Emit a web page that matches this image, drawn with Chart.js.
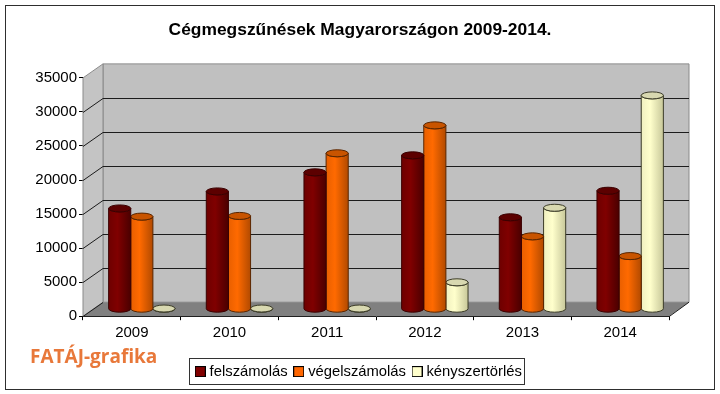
<!DOCTYPE html>
<html>
<head>
<meta charset="utf-8">
<style>
html, body { margin: 0; padding: 0; background: #fff; }
#wrap { width: 720px; height: 394px; }
</style>
<script src="https://cdn.jsdelivr.net/npm/chart.js@4"></script>
</head>
<body>
<div id="wrap"><canvas id="chart" width="720" height="394"></canvas></div>
<script>
const categories = ['2009', '2010', '2011', '2012', '2013', '2014'];
const felszamolas = [14800, 17300, 20100, 22600, 13500, 17400];
const vegelszamolas = [13600, 13700, 22900, 27000, 10700, 7800];
const kenyszertorles = [100, 100, 100, 3950, 14900, 31400];
const yTicks = [0, 5000, 10000, 15000, 20000, 25000, 30000, 35000];

const titleText = 'Cégmegszűnések Magyarországon 2009-2014.';
const brandText = 'FATÁJ-grafika';

// depth of the fake 3D box, bars stand halfway in
const depthX = 20, depthY = -14;

// side shading per series colour: left, middle, right, lid, outline
const shades = {
    '#800000': ['#6e0000', '#800000', '#4a0000', '#5c0000', '#3a0000'],
    '#ff6600': ['#e85f00', '#ff6a00', '#b24a00', '#c85400', '#5a2600'],
    '#ffffcc': ['#f0f0c0', '#ffffcc', '#c8c89a', '#d8d8b0', '#3c3c28']
};

// Cylinder bar, drawn from the element's own x / y / base / width
class CylinderElement extends Chart.BarElement {
    static id = 'cylinder';
    static defaults = { ...Chart.BarElement.defaults };

    draw(ctx) {
        const shade = shades[this.options.backgroundColor];
        const cx = this.x + depthX / 2, top = this.y + depthY / 2, bottom = this.base + depthY / 2;
        const rx = this.width / 2, ry = 3.5;
        const left = cx - rx, right = cx + rx;
        const g = ctx.createLinearGradient(left, 0, right, 0);
        g.addColorStop(0, shade[0]);
        g.addColorStop(0.4, shade[1]);
        g.addColorStop(1, shade[2]);

        ctx.save();
        ctx.lineWidth = 1;
        ctx.strokeStyle = shade[4];
        ctx.fillStyle = g;
        ctx.beginPath();
        ctx.moveTo(left, top);
        ctx.lineTo(left, bottom);
        ctx.ellipse(cx, bottom, rx, ry, 0, Math.PI, 0, true);
        ctx.lineTo(right, top);
        ctx.ellipse(cx, top, rx, ry, 0, 0, Math.PI, false);
        ctx.closePath();
        ctx.fill();
        ctx.stroke();

        ctx.fillStyle = shade[3];
        ctx.beginPath();
        ctx.ellipse(cx, top, rx, ry, 0, 0, Math.PI * 2);
        ctx.fill();
        ctx.stroke();
        ctx.restore();
    }
}

class CylinderController extends Chart.BarController {
    static id = 'cylinderBar';
    static defaults = { ...Chart.BarController.defaults, dataElementType: 'cylinder' };
}

Chart.register(CylinderElement, CylinderController);

// Legend swatch as a small canvas, so the label can sit closer than the default gap
function swatch(color) {
    const c = document.createElement('canvas');
    c.width = 11;
    c.height = 11;
    const g = c.getContext('2d');
    g.fillStyle = color;
    g.fillRect(0, 0, 11, 11);
    g.strokeStyle = '#000';
    g.strokeRect(0.5, 0.5, 10, 10);
    return c;
}

function legendLabels(chart) {
    return Chart.defaults.plugins.legend.labels.generateLabels(chart).map(item => {
        item.pointStyle = swatch(item.fillStyle);
        return item;
    });
}

// Walls, floor, gridlines behind the bars
const boxPlugin = {
    id: 'box',
    // padding keeps title and legend centred, the y labels still need room to the left
    afterLayout(chart) {
        chart.scales.y.left = 0;
    },
    beforeDatasetsDraw(chart) {
        const { ctx, chartArea: a, scales: { y } } = chart;
        const y0 = y.getPixelForValue(0), yMax = y.getPixelForValue(35000);
        ctx.save();
        ctx.lineWidth = 1;
        // back wall
        ctx.fillStyle = '#c0c0c0';
        ctx.strokeStyle = '#8a8a8a';
        ctx.beginPath();
        ctx.rect(a.left + depthX, yMax + depthY, a.width, y0 - yMax);
        ctx.fill();
        ctx.stroke();
        // side wall
        ctx.fillStyle = '#c4c4c4';
        ctx.beginPath();
        ctx.moveTo(a.left, y0);
        ctx.lineTo(a.left, yMax);
        ctx.lineTo(a.left + depthX, yMax + depthY);
        ctx.lineTo(a.left + depthX, y0 + depthY);
        ctx.closePath();
        ctx.fill();
        ctx.stroke();
        // floor
        ctx.fillStyle = '#808080';
        ctx.beginPath();
        ctx.moveTo(a.left, y0);
        ctx.lineTo(a.right, y0);
        ctx.lineTo(a.right + depthX, y0 + depthY);
        ctx.lineTo(a.left + depthX, y0 + depthY);
        ctx.closePath();
        ctx.fill();
        // gridlines
        ctx.strokeStyle = '#1c1c1c';
        yTicks.forEach(v => {
            if (v === 35000) return;
            const py = Math.round(y.getPixelForValue(v)) + 0.5;
            ctx.beginPath();
            ctx.moveTo(a.left, py);
            ctx.lineTo(a.left + depthX, py + depthY);
            if (v > 0) ctx.lineTo(a.right + depthX, py + depthY);
            ctx.stroke();
        });
        // right edge of the floor
        ctx.beginPath();
        ctx.moveTo(a.right, y0 + 0.5);
        ctx.lineTo(a.right + depthX, y0 + depthY);
        ctx.stroke();
        ctx.restore();
    },
    afterDraw(chart) {
        const { ctx } = chart;
        ctx.save();
        // outer frame
        ctx.strokeStyle = '#2e2e2e';
        ctx.lineWidth = 1;
        ctx.strokeRect(5.5, 5.5, 709, 384);
        // legend frame
        ctx.strokeStyle = '#333';
        ctx.strokeRect(189.5, 358.5, 335, 26);
        // brand text
        ctx.fillStyle = '#e8783a';
        ctx.font = 'bold 19px "Open Sans"';
        ctx.textBaseline = 'alphabetic';
        ctx.fillText(brandText, 30, 363);
        ctx.restore();
    }
};

function ds(label, data, color) {
    return { label, data, backgroundColor: color, borderColor: '#000', borderWidth: 1 };
}

new Chart(document.getElementById('chart'), {
    type: 'cylinderBar',
    data: {
        labels: categories,
        datasets: [
            ds('felszámolás', felszamolas, '#800000'),
            ds('végelszámolás', vegelszamolas, '#ff6600'),
            ds('kényszertörlés', kenyszertorles, '#ffffcc')
        ]
    },
    plugins: [boxPlugin],
    options: {
        responsive: false,
        animation: false,
        layout: { padding: { left: 51, right: 51, top: 0, bottom: 5 } },
        datasets: { cylinderBar: { categoryPercentage: 0.68, barPercentage: 1 } },
        plugins: {
            tooltip: { enabled: false },
            title: {
                display: true,
                text: titleText,
                color: '#000',
                font: { family: 'Liberation Sans', size: 17.4, weight: 'bold' },
                padding: { top: 20, bottom: 37 }
            },
            legend: {
                position: 'bottom',
                labels: {
                    color: '#000',
                    font: { family: 'Liberation Sans', size: 14.8 },
                    usePointStyle: true,
                    pointStyleWidth: 4,
                    boxHeight: 11,
                    padding: 9,
                    generateLabels: legendLabels
                }
            }
        },
        scales: {
            x: {
                afterFit(s) { s.height = 39; },
                grid: { drawOnChartArea: false, color: '#000', tickLength: 4, offset: true },
                border: { color: '#000' },
                ticks: { color: '#000', font: { family: 'Liberation Sans', size: 15 }, padding: 4, maxRotation: 0 }
            },
            y: {
                min: 0,
                max: 35000,
                afterFit(s) { s.width = 32; },
                afterBuildTicks(s) { s.ticks = yTicks.map(value => ({ value })); },
                grid: { drawOnChartArea: false, color: '#000', tickLength: 4 },
                border: { display: false },
                ticks: { color: '#000', font: { family: 'Liberation Sans', size: 15 }, padding: 2, callback: v => String(v) }
            }
        }
    }
});
</script>
</body>
</html>
